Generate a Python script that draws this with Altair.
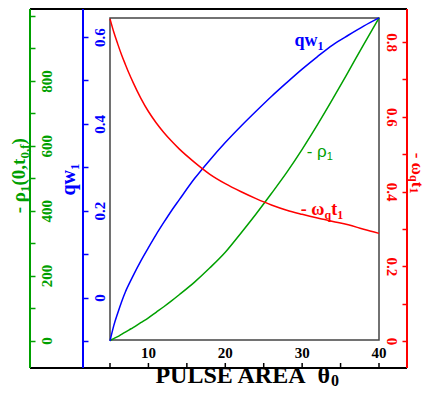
import altair as alt
import pandas as pd

# ---------------- data ----------------
theta = [5, 5.5, 6, 6.5, 7, 7.5, 8, 9, 10, 11, 12, 13, 14, 16, 18, 20, 22, 24, 26, 28, 30, 32, 34, 36, 38, 40]
qw1 = [-0.100, -0.064, -0.036, -0.010, 0.013, 0.032, 0.050, 0.084, 0.115, 0.145, 0.173, 0.200, 0.225,
       0.274, 0.317, 0.357, 0.394, 0.429, 0.463, 0.495, 0.526, 0.555, 0.582, 0.604, 0.625, 0.644]
rho1 = [0, 6, 12, 19, 26, 33, 40, 55, 70, 87, 104, 122, 141,
        180, 224, 272, 330, 390, 453, 518, 589, 665, 745, 828, 912, 994]
wqt1 = [0.862, 0.826, 0.795, 0.766, 0.740, 0.715, 0.692, 0.650, 0.614, 0.584, 0.558, 0.535, 0.514,
        0.478, 0.446, 0.421, 0.400, 0.381, 0.364, 0.350, 0.339, 0.329, 0.320, 0.311, 0.299, 0.288]

x_ticks = [5, 10, 15, 20, 25, 30, 35, 40]
x_labels = [10, 20, 30, 40]
green_ticks = [0, 100, 200, 300, 400, 500, 600, 700, 800, 900, 1000]
blue_ticks = [-0.1, 0.0, 0.1, 0.2, 0.3, 0.4, 0.5, 0.6]
red_ticks = [0.0, 0.1, 0.2, 0.3, 0.4, 0.5, 0.6, 0.7, 0.8]

# in-plot label anchors (data coordinates)
qw_label = {"theta": [32.0], "v": [0.579]}
rho_label = {"theta": [33.2], "v": [565]}
wq_label = {"theta": [32.9], "v": [0.337]}

GREEN = "#00a000"
BLUE = "#0000ff"
RED = "#ff0000"
SERIF = "Liberation Serif"
SANS = "Liberation Sans"

df = pd.DataFrame({"theta": theta, "qw1": qw1, "rho1": rho1, "wqt1": wqt1})
dummy = pd.DataFrame({"d": [0]})

W, H = 269, 322

xscale = alt.Scale(domain=[5, 40], nice=False, zero=False)
gscale = alt.Scale(domain=[0, 1000], range=[322.5, -2], nice=False, zero=False)
bscale = alt.Scale(domain=[-0.1, 0.6], range=[323, 19], nice=False, zero=False)
rscale = alt.Scale(domain=[0, 0.8], range=[323, 24], nice=False, zero=False)


def yaxis(orient, offset, values, color, expr, fmt, angle):
    return alt.Axis(orient=orient, offset=offset, values=values, format=fmt,
                    labelExpr=expr, domain=False, grid=False,
                    tickColor=color, tickSize=5, tickWidth=1.5,
                    labelColor=color, labelFont=SERIF, labelFontWeight="bold",
                    labelFontSize=15, labelAngle=angle, labelAlign="center",
                    labelBaseline="top", labelPadding=4, labelFlush=False,
                    labelOverlap=False, title=None)


gaxis = yaxis("right", -349, green_ticks, GREEN,
              "datum.value % 200 == 0 && datum.value <= 800 ? datum.label : ''", "d", 270)
baxis = yaxis("right", -296, blue_ticks, BLUE,
              "indexof([0, 0.2, 0.4, 0.6], datum.value) >= 0 ? datum.label : ''", "~g", 270)
raxis = yaxis("left", -297, red_ticks, RED,
              "indexof([0, 0.2, 0.4, 0.6, 0.8], datum.value) >= 0 ? datum.label : ''", "~g", 90)

X = alt.X("theta:Q", scale=xscale, axis=None)

base = alt.Chart(df)
green_line = base.mark_line(color=GREEN, strokeWidth=1.5, interpolate="monotone").encode(
    x=X, y=alt.Y("rho1:Q", scale=gscale, axis=gaxis))
blue_line = base.mark_line(color=BLUE, strokeWidth=1.5, interpolate="monotone").encode(
    x=X, y=alt.Y("qw1:Q", scale=bscale, axis=baxis))
red_line = base.mark_line(color=RED, strokeWidth=1.5, interpolate="monotone").encode(
    x=X, y=alt.Y("wqt1:Q", scale=rscale, axis=raxis))

# x axis drawn from the tick arrays through the x scale (ticks point inward, labels above line)
x_tick_marks = alt.Chart(pd.DataFrame({"theta": x_ticks})).mark_rule(
    color="black", strokeWidth=1.5).encode(x=X, y=alt.value(345), y2=alt.value(350))
x_tick_labels = alt.Chart(pd.DataFrame({"theta": x_labels})).mark_text(
    font=SERIF, fontWeight="bold", fontSize=15, color="black",
    align="center", baseline="bottom").encode(
    x=X, y=alt.value(343), text=alt.Text("theta:Q", format="d"))


def note(pos, scale, text, color, size, font, weight, align, dx=0, dy=0):
    return alt.Chart(pd.DataFrame(pos)).mark_text(
        text=text, color=color, fontSize=size, font=font, fontWeight=weight,
        align=align, baseline="alphabetic", dx=dx, dy=dy).encode(
        x=X, y=alt.Y("v:Q", scale=scale, axis=None))


def ptext(text, x, y, size, color, angle=0, align="left", dx=0, dy=0,
          font=SERIF, weight="bold"):
    return alt.Chart(dummy).mark_text(
        text=text, color=color, fontSize=size, font=font, fontWeight=weight,
        angle=angle, align=align, baseline="alphabetic", dx=dx, dy=dy).encode(
        x=alt.value(x), y=alt.value(y))


def vrule(x, color):
    return alt.Chart(dummy).mark_rule(color=color, strokeWidth=2).encode(
        x=alt.value(x), y=alt.value(-9), y2=alt.value(350))


def hrule(y):
    return alt.Chart(dummy).mark_rule(color="black", strokeWidth=2).encode(
        y=alt.value(y), x=alt.value(-80), x2=alt.value(297))


layers = [
    hrule(-9), hrule(350),
    vrule(-80, GREEN), vrule(-27, BLUE), vrule(297, RED),
    green_line, blue_line, red_line,
    x_tick_marks, x_tick_labels,
    # in-plot labels
    note(qw_label, bscale, "qw", BLUE, 18, SERIF, "bold", "right"),
    note(qw_label, bscale, "1", BLUE, 12, SERIF, "bold", "left", dx=0, dy=4),
    note(rho_label, gscale, "- ρ", GREEN, 17, SANS, "normal", "right"),
    note(rho_label, gscale, "1", GREEN, 11, SANS, "normal", "left", dx=0, dy=3),
    note(wq_label, rscale, "- ω", RED, 18, SERIF, "bold", "right"),
    note(wq_label, rscale, "q", RED, 12, SERIF, "bold", "left", dx=0, dy=4),
    note(wq_label, rscale, "t", RED, 18, SERIF, "bold", "left", dx=6.7),
    note(wq_label, rscale, "1", RED, 12, SERIF, "bold", "left", dx=12.7, dy=4),
    # x title
    ptext("PULSE AREA\u00a0\u00a0θ", 220, 365, 24, "black", align="right"),
    ptext("0", 221, 365, 16, "black", align="left", dy=3),
    # green title (rotated)
    ptext("- ρ", -85, 174, 19, GREEN, angle=270, align="right"),
    ptext("1", -85, 174, 13, GREEN, angle=270, align="left", dy=4),
    ptext("(0,t", -85, 174, 19, GREEN, angle=270, align="left", dx=6.5),
    ptext("0,f", -85, 174, 13, GREEN, angle=270, align="left", dx=33.4, dy=4),
    ptext(")", -85, 174, 19, GREEN, angle=270, align="left", dx=47.5),
    # blue title
    ptext("qw", -35, 152, 20, BLUE, angle=270, align="right"),
    ptext("1", -35, 152, 13, BLUE, angle=270, align="left", dy=4),
    # red title
    ptext("- ω", 302, 157, 17, RED, angle=90, align="right"),
    ptext("q", 302, 157, 12, RED, angle=90, align="left", dy=2),
    ptext("t", 302, 157, 17, RED, angle=90, align="left", dx=6.7),
    ptext("1", 302, 157, 12, RED, angle=90, align="left", dx=12.4, dy=2),
]

chart = alt.layer(*layers).resolve_scale(y="independent").properties(
    width=W, height=H,
    autosize=alt.AutoSizeParams(type="none"),
    padding={"left": 102, "top": 10, "right": 49, "bottom": 50},
).configure_view(stroke="#444444", strokeWidth=1.5)

chart.save("out.html", embed_options={"renderer": "svg", "actions": False})
